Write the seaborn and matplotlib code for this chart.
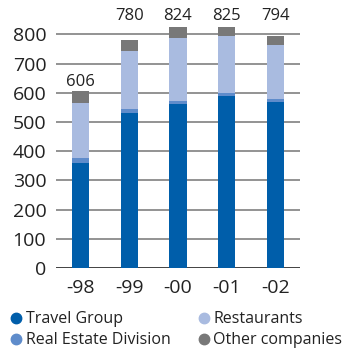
import matplotlib
matplotlib.use("Agg")
import matplotlib.pyplot as plt
import seaborn as sns
import pandas as pd
import numpy as np
from matplotlib.lines import Line2D

years = ["-98", "-99", "-00", "-01", "-02"]
travel_group = [360, 531, 562, 589, 569]
real_estate = [17, 14, 11, 11, 10]
restaurants = [188, 198, 215, 195, 185]
other_companies = [41, 37, 36, 30, 30]
totals = [606, 780, 824, 825, 794]

series_names = ["Travel Group", "Real Estate Division", "Restaurants", "Other companies"]
colors = ["#005EAA", "#5F8CCB", "#A9BBE0", "#787878"]

sns.set_theme(style="white")
plt.rcParams['font.family'] = ['Open Sans', 'DejaVu Sans']

df = pd.DataFrame({
    "year": years,
    "Travel Group": travel_group,
    "Real Estate Division": real_estate,
    "Restaurants": restaurants,
    "Other companies": other_companies,
})

fig = plt.figure(figsize=(3.48, 3.52), dpi=100)
ax = fig.add_axes([56/348, 1-268/352, 244/348, 254/352])

cum = np.zeros(len(years))
cums = []
for name in series_names:
    cum = cum + df[name].values
    cums.append(cum.copy())

for name, color, c in reversed(list(zip(series_names, colors, cums))):
    sns.barplot(x=years, y=list(c), color=color, width=0.35, ax=ax,
                saturation=1, zorder=3, errorbar=None)
for p in ax.patches:
    p.set_linewidth(0)

ax.set_xlim(-0.5, 4.5)
ax.set_ylim(0, 870)
ax.set_yticks(range(0, 900, 100))

ax.hlines(list(range(100, 900, 100)), -0.5, 4.5, colors="#808080",
          linewidths=1.2, zorder=2.5)
ax.hlines([0], -0.5, 4.5, colors="#333333", linewidths=1.3, zorder=2.5)

for i, t in enumerate(totals):
    label_y = t + 17 if t < 700 else 849
    ax.text(i, label_y, str(t), ha="center", va="baseline",
            fontsize=12, color="#222222")

ax.set_xlabel("")
ax.set_ylabel("")
ax.tick_params(axis="both", length=0, labelsize=14, labelcolor="#222222")
ax.tick_params(axis="x", pad=8)
ax.tick_params(axis="y", pad=7)
for s in ax.spines.values():
    s.set_visible(False)

handles = [Line2D([], [], marker="o", linestyle="", markersize=7.5, markerfacecolor=c,
                  markeredgecolor=c) for c in colors]
fig.legend(handles, series_names, ncol=2, loc="lower left",
           bbox_to_anchor=(0.0, -0.012), frameon=False, fontsize=11.5,
           handletextpad=0.1, columnspacing=1.6, labelspacing=0.3,
           borderaxespad=0.1, handlelength=1.0, labelcolor="#222222")

fig.savefig("out.png", dpi=100)
